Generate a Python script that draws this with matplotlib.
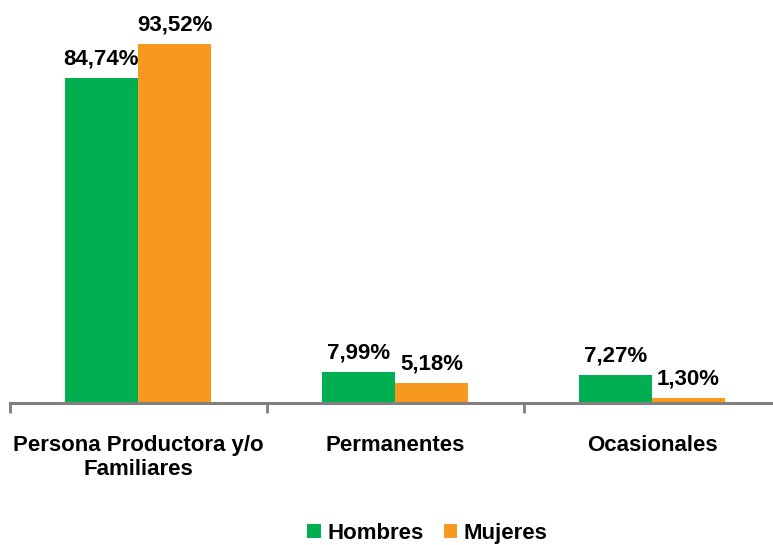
import matplotlib.pyplot as plt
import numpy as np

# datos
categorias = ["Persona Productora y/o\nFamiliares", "Permanentes", "Ocasionales"]
hombres = [84.74, 7.99, 7.27]
mujeres = [93.52, 5.18, 1.30]
series = ["Hombres", "Mujeres"]

plt.rcParams['font.family'] = ['Liberation Sans', 'DejaVu Sans']

fig = plt.figure(figsize=(7.73, 5.45), dpi=100)
ax = fig.add_axes([0.0123, 0.2606, 0.9974, 0.704])

x = np.arange(len(categorias))
w = 0.285
b1 = ax.bar(x - w / 2, hombres, w, color="#00B050", label=series[0])
b2 = ax.bar(x + w / 2, mujeres, w, color="#F7991F", label=series[1])

for bars, vals in [(b1, hombres), (b2, mujeres)]:
    for r, v in zip(bars, vals):
        ax.annotate(f"{v:.2f}%".replace(".", ","),
                    (r.get_x() + r.get_width() / 2, r.get_height()),
                    xytext=(0, 6), textcoords="offset points",
                    ha="center", va="bottom", fontsize=16, fontweight="bold")

ax.set_xlim(-0.5, 2.5)
ax.set_ylim(0, 100)
ax.set_yticks([])
for s in ["top", "right", "left"]:
    ax.spines[s].set_visible(False)
ax.spines["bottom"].set_color("#808080")
ax.spines["bottom"].set_linewidth(2.2)

ax.set_xticks(x)
ax.set_xticklabels(categorias, fontsize=16, fontweight="bold")
ax.tick_params(axis="x", which="major", length=0, pad=23)
ax.set_xticks([-0.5, 0.5, 1.5, 2.5], minor=True)
ax.tick_params(axis="x", which="minor", length=7, width=2, color="#808080")

fig.legend(loc="center", bbox_to_anchor=(0.553, 0.022), ncol=2, frameon=False,
           prop={"size": 16, "weight": "bold"}, handlelength=0.6, handleheight=0.6,
           handletextpad=0.3, columnspacing=0.9)

fig.savefig("out.png", dpi=100)
